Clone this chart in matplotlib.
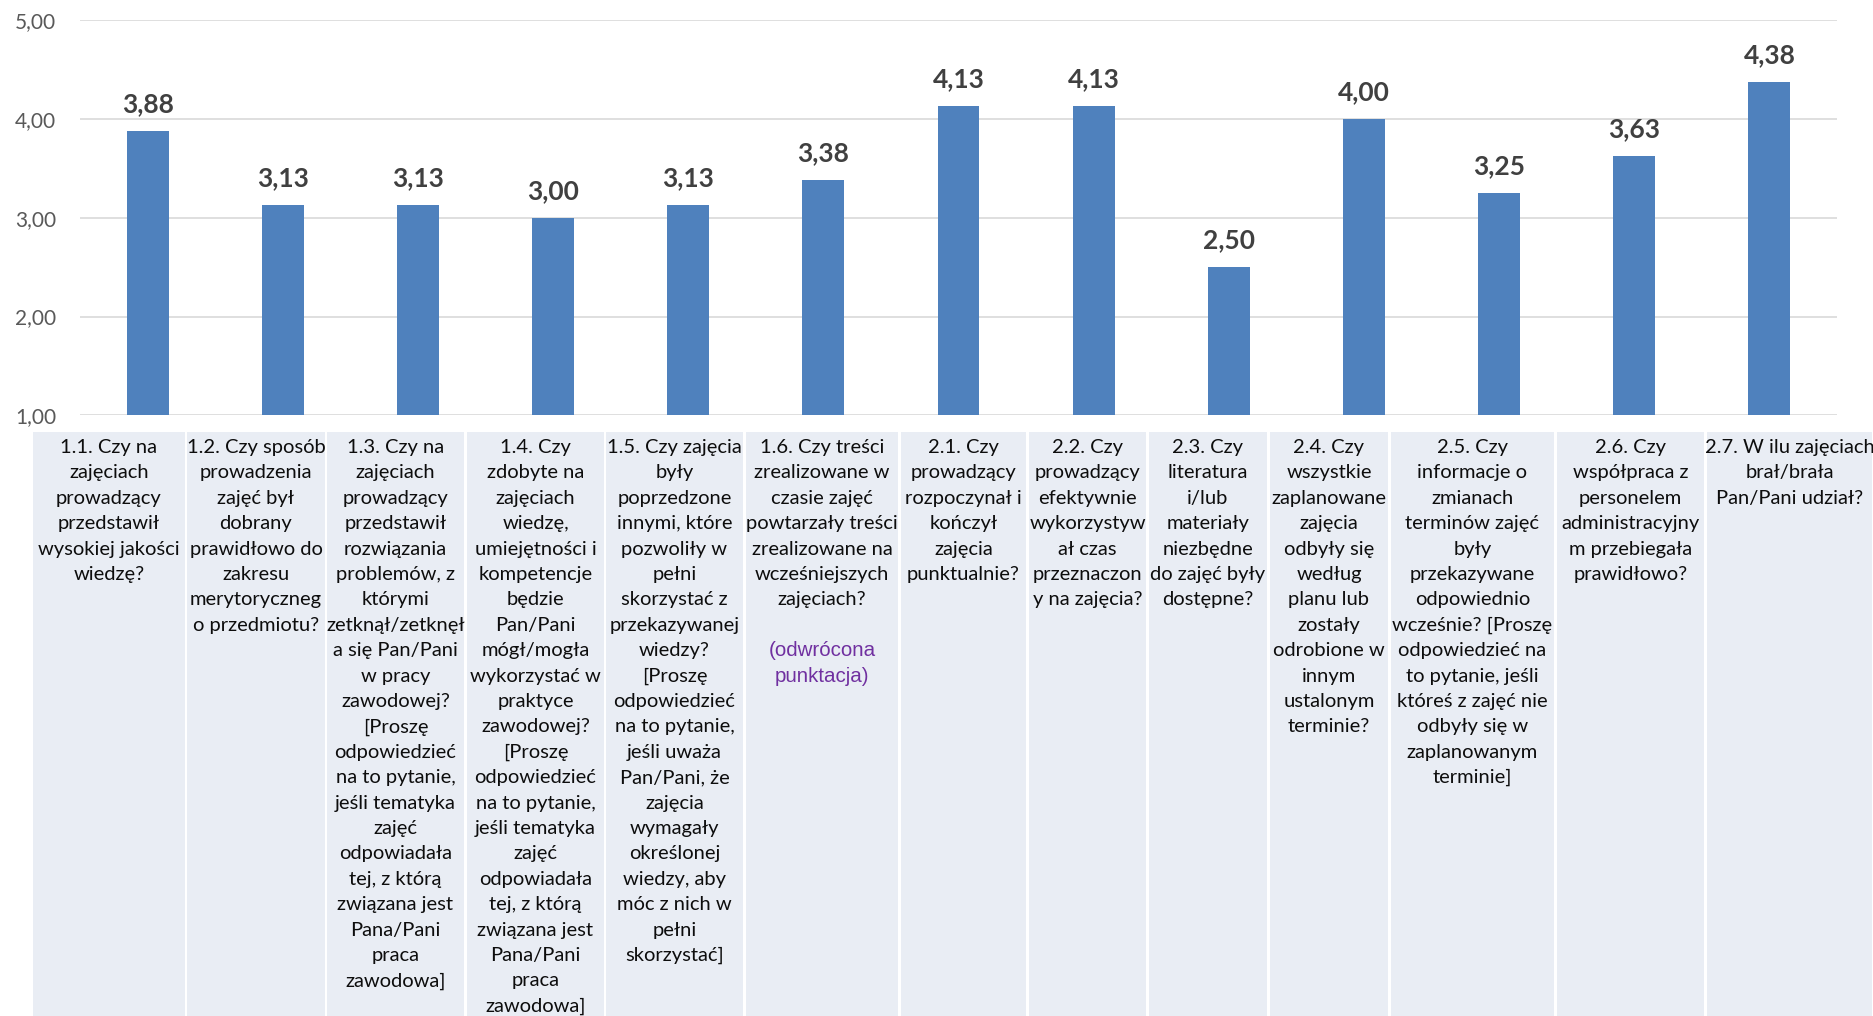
import numpy as np
import matplotlib
matplotlib.use("Agg")
import matplotlib.pyplot as plt
from matplotlib.patches import Rectangle

plt.rcParams['font.family'] = ['Lato', 'DejaVu Sans']

# data
values = [3.88, 3.13, 3.13, 3.00, 3.13, 3.38, 4.13, 4.13, 2.50, 4.00, 3.25, 3.63, 4.38]
y_ticks = [1, 2, 3, 4, 5]

questions = [
    "1.1. Czy na\nzajęciach\nprowadzący\nprzedstawił\nwysokiej jakości\nwiedzę?",
    "1.2. Czy sposób\nprowadzenia\nzajęć był\ndobrany\nprawidłowo do\nzakresu\nmerytoryczneg\no przedmiotu?",
    "1.3. Czy na\nzajęciach\nprowadzący\nprzedstawił\nrozwiązania\nproblemów, z\nktórymi\nzetknął/zetknęł\na się Pan/Pani\nw pracy\nzawodowej?\n[Proszę\nodpowiedzieć\nna to pytanie,\njeśli tematyka\nzajęć\nodpowiadała\ntej, z którą\nzwiązana jest\nPana/Pani\npraca\nzawodowa]",
    "1.4. Czy\nzdobyte na\nzajęciach\nwiedzę,\numiejętności i\nkompetencje\nbędzie\nPan/Pani\nmógł/mogła\nwykorzystać w\npraktyce\nzawodowej?\n[Proszę\nodpowiedzieć\nna to pytanie,\njeśli tematyka\nzajęć\nodpowiadała\ntej, z którą\nzwiązana jest\nPana/Pani\npraca\nzawodowa]",
    "1.5. Czy zajęcia\nbyły\npoprzedzone\ninnymi, które\npozwoliły w\npełni\nskorzystać z\nprzekazywanej\nwiedzy?\n[Proszę\nodpowiedzieć\nna to pytanie,\njeśli uważa\nPan/Pani, że\nzajęcia\nwymagały\nokreślonej\nwiedzy, aby\nmóc z nich w\npełni\nskorzystać]",
    "1.6. Czy treści\nzrealizowane w\nczasie zajęć\npowtarzały treści\nzrealizowane na\nwcześniejszych\nzajęciach?",
    "2.1. Czy\nprowadzący\nrozpoczynał i\nkończył\nzajęcia\npunktualnie?",
    "2.2. Czy\nprowadzący\nefektywnie\nwykorzystyw\nał czas\nprzeznaczon\ny na zajęcia?",
    "2.3. Czy\nliteratura\ni/lub\nmateriały\nniezbędne\ndo zajęć były\ndostępne?",
    "2.4. Czy\nwszystkie\nzaplanowane\nzajęcia\nodbyły się\nwedług\nplanu lub\nzostały\nodrobione w\ninnym\nustalonym\nterminie?",
    "2.5. Czy\ninformacje o\nzmianach\nterminów zajęć\nbyły\nprzekazywane\nodpowiednio\nwcześnie? [Proszę\nodpowiedzieć na\nto pytanie, jeśli\nktóreś z zajęć nie\nodbyły się w\nzaplanowanym\nterminie]",
    "2.6. Czy\nwspółpraca z\npersonelem\nadministracyjny\nm przebiegała\nprawidłowo?",
    "2.7. W ilu zajęciach\nbrał/brała\nPan/Pani udział?",
]
note_text = "(odwrócona\npunktacja)"
note_index = 5

# layout of the label table (pixels)
W, H = 1874, 1016
cell_edges = [(33, 185), (187, 325), (327, 464), (467, 604), (606, 743), (746, 898),
              (901, 1026), (1029, 1146), (1149, 1267), (1270, 1388), (1391, 1554),
              (1557, 1704), (1707, 1872)]
cell_top = 432
first_base = 453
line_h = 25.4

fig = plt.figure(figsize=(W / 100, H / 100), dpi=100)

bg = fig.add_axes([0, 0, 1, 1])
bg.set_xlim(0, W)
bg.set_ylim(H, 0)
bg.axis('off')

for (x0, x1), q in zip(cell_edges, questions):
    bg.add_patch(Rectangle((x0, cell_top), x1 - x0, H - cell_top,
                           facecolor='#E9EDF4', edgecolor='none'))
    cx = (x0 + x1) / 2
    for i, line in enumerate(q.split('\n')):
        bg.text(cx, first_base + i * line_h, line, ha='center', va='baseline',
                fontsize=14.5, color='#0d0d0d')

# purple note under question 1.6
x0, x1 = cell_edges[note_index]
n_lines = len(questions[note_index].split('\n'))
for i, line in enumerate(note_text.split('\n')):
    bg.text((x0 + x1) / 2, first_base + (n_lines + 1 + i) * line_h, line,
            ha='center', va='baseline', fontsize=14.8, color='#7030A0',
            family='Liberation Sans')

# bar chart
ax_left, ax_right, ax_top, ax_bot = 80, 1837, 20.3, 415.3
ax = fig.add_axes([ax_left / W, 1 - ax_bot / H, (ax_right - ax_left) / W, (ax_bot - ax_top) / H])
ax.set_zorder(2)
ax.patch.set_alpha(0)

x = np.arange(len(values))
ax.bar(x, values, width=0.31, color='#4F81BD', zorder=3)
for xi, v in zip(x, values):
    ax.annotate(f"{v:.2f}".replace('.', ','), (xi, v), xytext=(0, 13.5),
                textcoords='offset points', ha='center', va='baseline',
                fontsize=19, fontweight='bold', color='#404040')

ax.set_xlim(-0.5, len(values) - 0.5)
ax.set_ylim(1, 5)
ax.set_yticks(y_ticks)
ax.set_yticklabels([f"{t:.2f}".replace('.', ',') for t in y_ticks])
ax.set_xticks([])
ax.yaxis.grid(True, color='#D9D9D9', linewidth=1.2, zorder=0)
ax.set_axisbelow(True)
for s in ax.spines.values():
    s.set_visible(False)
ax.tick_params(axis='y', length=0, pad=17, labelsize=15, labelcolor='#595959')

fig.savefig('out.png', dpi=100)
